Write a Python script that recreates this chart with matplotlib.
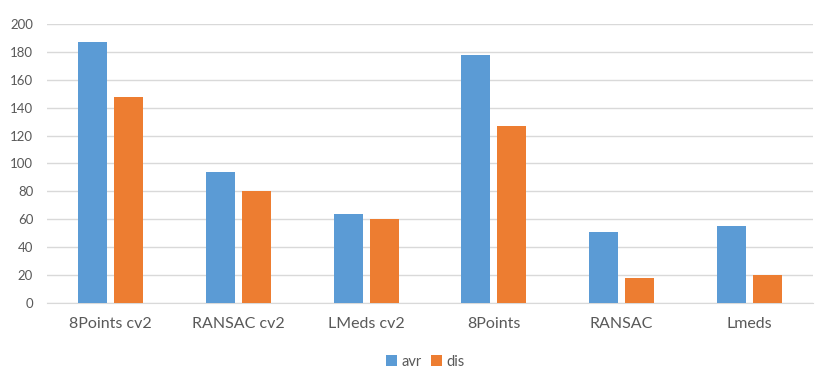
import matplotlib.pyplot as plt
import numpy as np

categories = ["8Points cv2", "RANSAC cv2", "LMeds cv2", "8Points", "RANSAC", "Lmeds"]
avr = [187, 94, 64, 178, 51, 55]
dis = [148, 80, 60, 127, 18, 20]
yticks = [0, 20, 40, 60, 80, 100, 120, 140, 160, 180, 200]

blue = "#5B9BD5"
orange = "#ED7D31"
text_gray = "#595959"

plt.rcParams["font.family"] = ["Lato", "DejaVu Sans"]

fig = plt.figure(figsize=(8.15, 3.69), dpi=100)
ax = fig.add_axes([0.0577, 0.179, 0.94, 0.756])

x = np.arange(len(categories))
w = 0.227
gap = 0.055
ax.bar(x - (w + gap) / 2, avr, width=w, color=blue, label="avr", zorder=3)
ax.bar(x + (w + gap) / 2, dis, width=w, color=orange, label="dis", zorder=3)

ax.set_xlim(-0.5, len(categories) - 0.5)
ax.set_ylim(0, 200)
ax.set_yticks(yticks)
ax.set_xticks(x)
ax.set_xticklabels(categories)
ax.grid(axis="y", color="#D9D9D9", linewidth=1, zorder=0)
ax.tick_params(axis="y", length=0, pad=10, labelsize=9.5, labelcolor=text_gray)
ax.tick_params(axis="x", length=0, pad=10, labelsize=11.5, labelcolor=text_gray)
for side in ["top", "right", "left"]:
    ax.spines[side].set_visible(False)
ax.spines["bottom"].set_color("#D9D9D9")

fig.legend(loc="center", bbox_to_anchor=(0.522, 0.02), ncol=2, frameon=False,
           handlelength=0.8, handleheight=0.8, handletextpad=0.3, columnspacing=0.6,
           fontsize=10.5, labelcolor=text_gray)

fig.savefig("out.png", dpi=100)
